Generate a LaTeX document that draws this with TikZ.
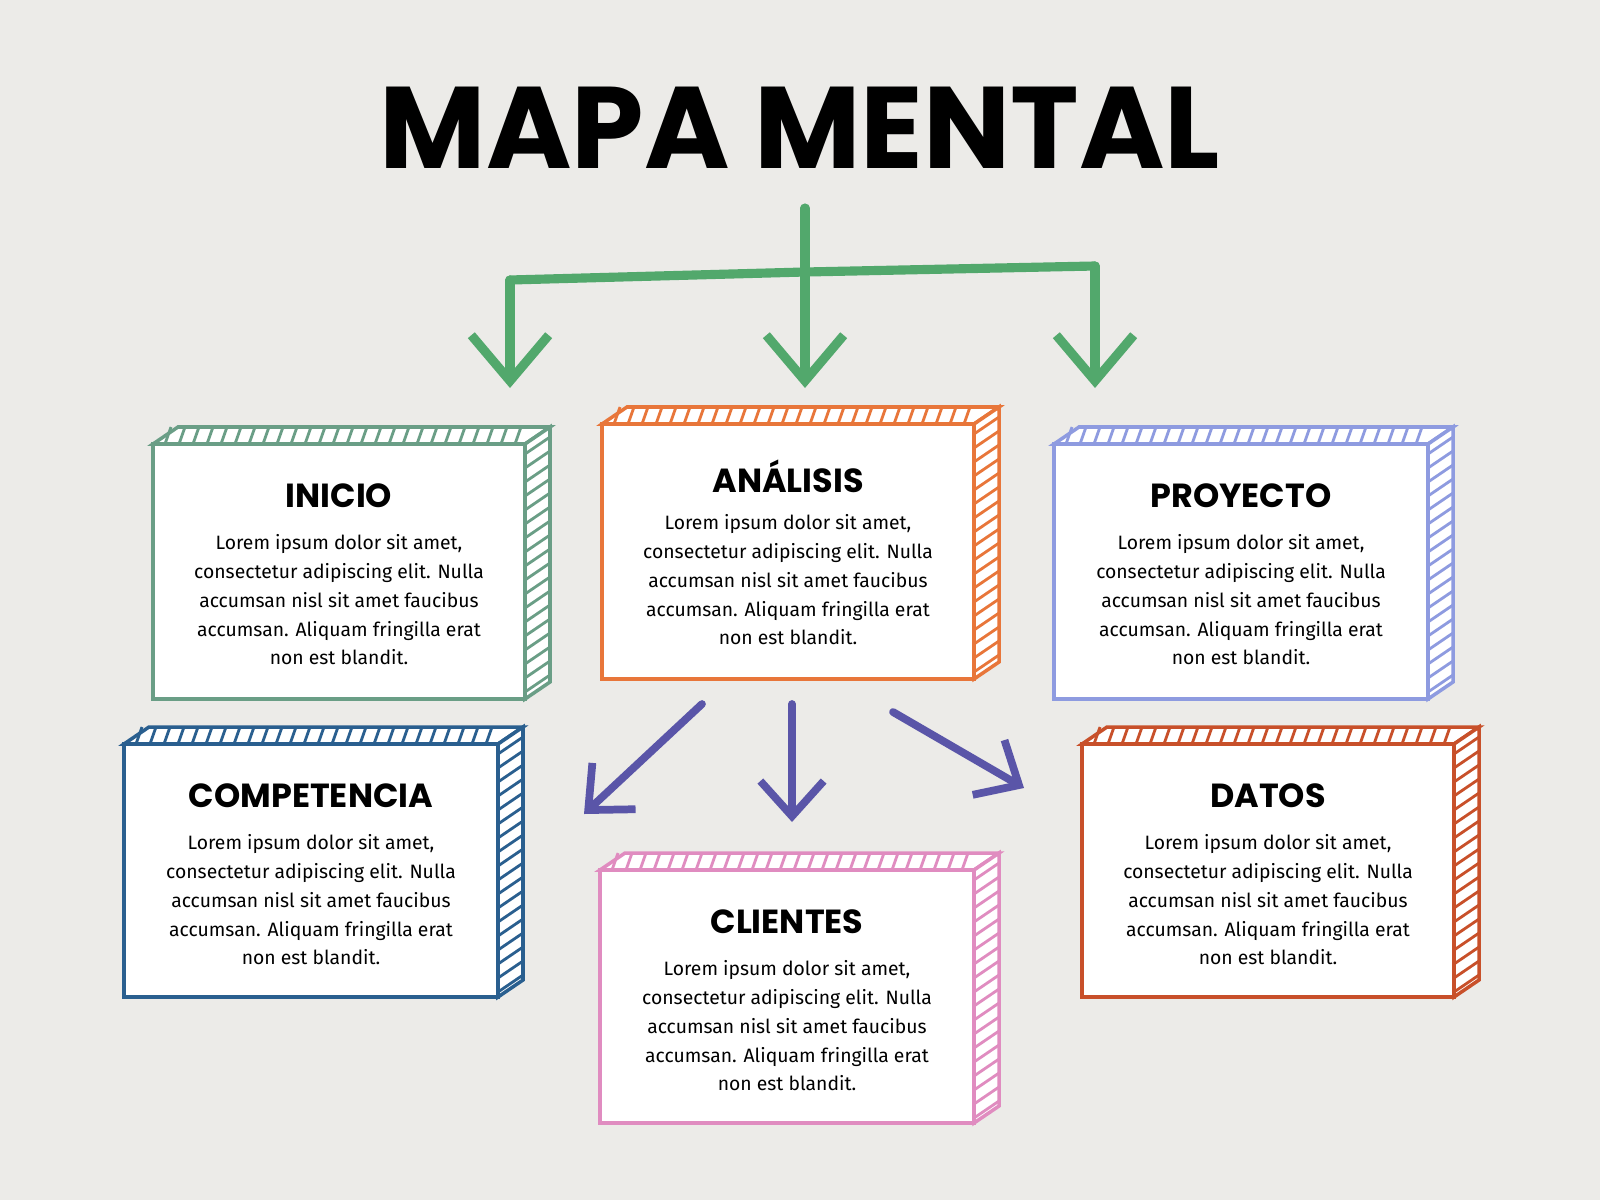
\documentclass[tikz,border=0pt]{standalone}
\usepackage{fontspec}
\setmainfont{Fira Sans}
\newfontfamily\titlefont{Poppins}
\usetikzlibrary{arrows.meta}
\definecolor{bg}{HTML}{ECEBE8}
\definecolor{cgreen}{HTML}{52A86C}
\definecolor{cpurple}{HTML}{5A55A8}
\definecolor{cinicio}{HTML}{6A9E86}
\definecolor{canalisis}{HTML}{E8763A}
\definecolor{cproyecto}{HTML}{8E9BE0}
\definecolor{ccomp}{HTML}{2A5F8F}
\definecolor{cclientes}{HTML}{E08CC0}
\definecolor{cdatos}{HTML}{C8502A}
\tikzset{
  ttl/.style={font=\titlefont\bfseries\fontsize{9.5}{11}\selectfont, text=black},
  body/.style={font=\fontsize{5.5}{8.2}\selectfont, align=center, anchor=north, text=black},
  garrow/.style={cgreen, line width=2.6pt, line cap=round, line join=round, -{Straight Barb[length=13pt,width=22pt,line width=2.6pt]}},
  parrow/.style={cpurple, line width=2.2pt, line cap=round, -{Straight Barb[length=10pt,width=18pt,line width=2.2pt]}},
}
\newcommand\mmbox[8]{%
  \fill[white] (#2,#3) rectangle ++(#4,#5);
  \draw[#6, line width=1pt, fill=white] (#2,#3) -- ++(25,-17) -- ++(#4,0) -- ({#2+#4},#3) -- cycle;
  \draw[#6, line width=1pt, fill=white] ({#2+#4},#3) -- ++(25,-17) -- ++(0,#5) -- ({#2+#4},{#3+#5}) -- cycle;
  \foreach \t in {12,26,...,#4} \draw[#6, line width=0.8pt] ({#2+\t},#3) -- ++(6,-17);
  \foreach \t in {10,24,...,#5} \draw[#6, line width=0.8pt] ({#2+#4},{#3+\t}) -- ++(25,-17);
  \draw[#6, line width=1.2pt] (#2,#3) rectangle ++(#4,#5);
  \node[ttl] (#1) at ({#2+#4/2},{#3+52}) {#7};
  \node[body] (#1-b) at ({#2+#4/2},{#3+78}) {Lorem ipsum dolor sit amet,\\consectetur adipiscing elit. Nulla\\accumsan nisl sit amet faucibus\\accumsan. Aliquam fringilla erat\\non est blandit.};
}
\begin{document}
\begin{tikzpicture}[x=0.01cm,y=-0.01cm]
\fill[bg] (0,0) rectangle (1600,1200);
\useasboundingbox (0,0) rectangle (1600,1200);
\node[font=\titlefont\bfseries\fontsize{33}{38}\selectfont] (title) at (800,128) {MAPA MENTAL};
\coordinate (g0) at (805,208);
\coordinate (gc) at (805,272);
\coordinate (gl) at (510,280);
\coordinate (gr) at (1095,266);
\coordinate (gld) at (510,388);
\coordinate (gmd) at (805,388);
\coordinate (grd) at (1095,388);
\draw[cgreen, line width=2.6pt, line cap=round] (gl) -- (gc) -- (gr);
\draw[garrow] (g0) -- (gmd);
\draw[garrow] (gl) -- (gld);
\draw[garrow] (gr) -- (grd);
\mmbox{inicio}{153}{444}{372}{255}{cinicio}{INICIO}{}
\mmbox{analisis}{602}{424}{372}{255}{canalisis}{ANÁLISIS}{}
\mmbox{proyecto}{1054}{444}{374}{255}{cproyecto}{PROYECTO}{}
\mmbox{comp}{124}{744}{374}{253}{ccomp}{COMPETENCIA}{}
\mmbox{clientes}{600}{870}{374}{253}{cclientes}{CLIENTES}{}
\mmbox{datos}{1082}{744}{372}{253}{cdatos}{DATOS}{}
\coordinate (p1s) at (702,704);
\coordinate (p1e) at (584,814);
\coordinate (p2s) at (792,704);
\coordinate (p2e) at (792,822);
\coordinate (p3s) at (893,712);
\coordinate (p3e) at (1024,788);
\draw[parrow] (p1s) -- (p1e);
\draw[parrow] (p2s) -- (p2e);
\draw[parrow] (p3s) -- (p3e);
\end{tikzpicture}
\end{document}
